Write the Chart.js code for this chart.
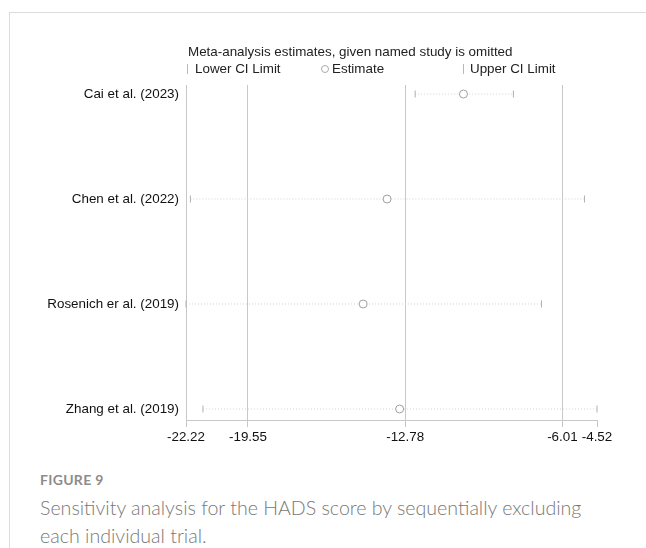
<!DOCTYPE html>
<html>
<head>
<meta charset="utf-8">
<script src="https://cdn.jsdelivr.net/npm/chart.js@4.4.1/dist/chart.umd.min.js"></script>
<style>
    body { margin: 0; background: #fff; width: 646px; height: 548px; position: relative; overflow: hidden; }
    #frameTop { position: absolute; left: 9px; top: 12px; width: 637px; height: 1px; background: #dcdcdc; }
    #frameLeft { position: absolute; left: 9px; top: 12px; width: 1px; height: 536px; background: #dcdcdc; }
    #chartBox { position: absolute; left: 0; top: 0; }
    .plotText { position: absolute; font-family: 'Liberation Sans', Arial, sans-serif; font-size: 13.4px; color: #222; white-space: nowrap; line-height: 16px; }
    .ciMark { position: absolute; width: 1px; height: 10px; background: #b8b8b8; }
    .estMark { position: absolute; width: 6px; height: 6px; border: 1px solid #aaa; border-radius: 50%; }
    #figLabel { position: absolute; left: 40px; top: 471px; font-family: Lato, 'Open Sans', sans-serif; font-weight: bold; font-size: 14px; letter-spacing: 0.3px; color: #8c8c8c; }
    #figCaption { position: absolute; left: 40px; top: 494px; font-family: Lato, 'Open Sans', sans-serif; font-weight: 300; font-size: 19.6px; line-height: 28px; color: #787878; white-space: nowrap; }
</style>
</head>
<body>
<div id="frameTop"></div>
<div id="frameLeft"></div>
<div id="chartBox"><canvas id="sensChart" width="646" height="460"></canvas></div>

<div class="plotText" style="left:188px; top:44px;">Meta-analysis estimates, given named study is omitted</div>
<div class="ciMark" style="left:187px; top:64px;"></div>
<div class="plotText" style="left:195px; top:61px;">Lower CI Limit</div>
<div class="estMark" style="left:321px; top:65px;"></div>
<div class="plotText" style="left:332px; top:61px;">Estimate</div>
<div class="ciMark" style="left:463px; top:64px;"></div>
<div class="plotText" style="left:470px; top:61px;">Upper CI Limit</div>

<div id="figLabel">FIGURE 9</div>
<div id="figCaption">Sensitivity analysis for the HADS score by sequentially excluding<br>each individual trial.</div>

<script>
// -------------------------------
//  DATA
// -------------------------------
const studies = ['Cai et al. (2023)', 'Chen et al. (2022)', 'Rosenich er al. (2019)', 'Zhang et al. (2019)'];
const lowerCI = [-12.35, -22.03, -22.22, -21.49];
const estimates = [-10.27, -13.56, -14.59, -13.02];
const upperCI = [-8.12, -5.06, -6.91, -4.52];
const xTicks = [-22.22, -19.55, -12.78, -6.01, -4.52];

const GRID_COLOR = '#c8c8c8';

Chart.defaults.font.family = "'Liberation Sans', Arial, sans-serif";
Chart.defaults.font.size = 13.4;
Chart.defaults.color = '#222';

// one dotted line per study, lower -> upper
const ciLines = studies.map((s, i) => ({
    type: 'line',
    label: s,
    data: [{ x: lowerCI[i], y: i }, { x: upperCI[i], y: i }],
    borderColor: '#d2d2d2',
    borderWidth: 1,
    borderDash: [1, 2],
    pointRadius: 0,
    fill: false,
    order: 3
}));

const ctx = document.getElementById('sensChart').getContext('2d');
new Chart(ctx, {
    type: 'scatter',
    data: {
        datasets: [
            ...ciLines,
            {
                label: 'Lower CI Limit',
                data: lowerCI.map((v, i) => ({ x: v, y: i })),
                pointStyle: 'line',
                rotation: 90,
                radius: 3.5,
                borderColor: '#b0b0b0',
                borderWidth: 1,
                clip: false,
                order: 2
            },
            {
                label: 'Upper CI Limit',
                data: upperCI.map((v, i) => ({ x: v, y: i })),
                pointStyle: 'line',
                rotation: 90,
                radius: 3.5,
                borderColor: '#b0b0b0',
                borderWidth: 1,
                clip: false,
                order: 2
            },
            {
                label: 'Estimate',
                data: estimates.map((v, i) => ({ x: v, y: i })),
                pointStyle: 'circle',
                radius: 4,
                borderColor: '#a0a0a0',
                backgroundColor: '#fff',
                borderWidth: 1,
                clip: false,
                order: 1
            }
        ]
    },
    options: {
        responsive: false,
        animation: false,
        layout: { padding: { top: 85, right: 49, bottom: 0, left: 0 } },
        scales: {
            x: {
                type: 'linear',
                min: -22.22,
                max: -4.52,
                afterBuildTicks: scale => { scale.ticks = xTicks.map(v => ({ value: v })); },
                afterFit: scale => { scale.height = 40; },
                ticks: {
                    autoSkip: false,
                    maxRotation: 0,
                    padding: 2,
                    color: '#111',
                    callback: v => v.toFixed(2)
                },
                grid: {
                    color: c => (c.tick && c.tick.value === -4.52) ? 'rgba(0,0,0,0)' : GRID_COLOR,
                    tickColor: GRID_COLOR,
                    tickLength: 7,
                    lineWidth: 1
                },
                border: { display: true, color: GRID_COLOR }
            },
            y: {
                type: 'linear',
                reverse: true,
                min: -0.086,
                max: 3.105,
                afterBuildTicks: scale => { scale.ticks = studies.map((s, i) => ({ value: i })); },
                afterFit: scale => { scale.width = 186; },
                ticks: {
                    padding: 7,
                    color: '#111',
                    callback: v => studies[v]
                },
                grid: { display: false, drawTicks: false },
                border: { display: true, color: GRID_COLOR }
            }
        },
        plugins: {
            legend: { display: false },
            tooltip: { enabled: false }
        }
    }
});
</script>
</body>
</html>
